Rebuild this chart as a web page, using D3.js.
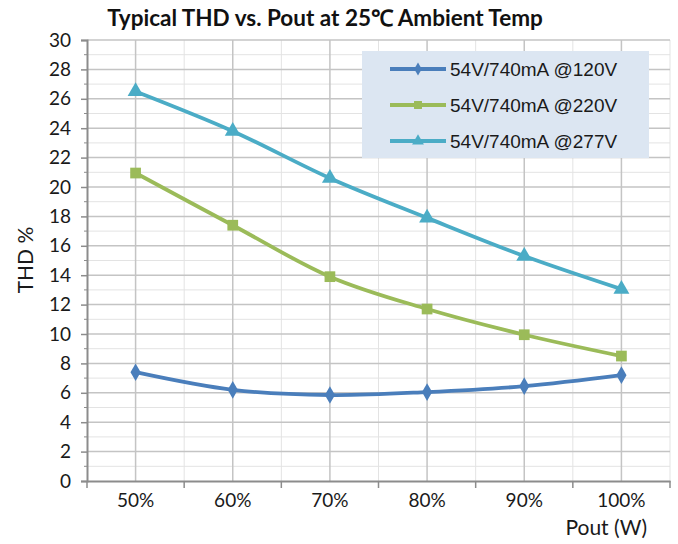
<!DOCTYPE html>
<html><head><meta charset="utf-8">
<script src="https://cdn.jsdelivr.net/npm/d3@7"></script>
<style>body{margin:0;background:#fff}svg{display:block}</style>
</head><body>
<svg id="c" width="678" height="544"></svg>
<script>
const categories = ["50%","60%","70%","80%","90%","100%"];
const seriesNames = ["54V/740mA @120V","54V/740mA @220V","54V/740mA @277V"];
const v120 = [7.4, 6.2, 5.85, 6.05, 6.45, 7.2];
const v220 = [20.95, 17.4, 13.9, 11.7, 9.95, 8.5];
const v277 = [26.5, 23.8, 20.6, 17.9, 15.3, 13.05];
const yTicks = [0,2,4,6,8,10,12,14,16,18,20,22,24,26,28,30];
const title = "Typical THD vs. Pout at 25\u2103 Ambient Temp";
const xTitle = "Pout (W)";
const yTitle = "THD %";

const colors = ["#4A7EBB","#9BBB59","#4BACC6"];
const markers = [d3.symbolDiamond, d3.symbolSquare, d3.symbolTriangle];
const markerSizes = [90, 115, 110];
const series = [v120, v220, v277];
const FONT = "Lato, 'Open Sans', sans-serif";

const svg = d3.select("#c");
const L = 87, R = 670, T = 40, B = 481;
const x = d3.scaleBand().domain(categories).range([L, R]);
const y = d3.scaleLinear().domain([0, 30]).range([B, T]);
const cx = d => x(d) + x.bandwidth()/2;

const g = svg.append("g");
g.selectAll(".hmin").data(d3.range(1, 30, 2)).join("line")
  .attr("x1", L).attr("x2", R).attr("y1", d => y(d)).attr("y2", d => y(d))
  .attr("stroke", "#E3E3E3").attr("stroke-width", 1);
g.selectAll(".vmin").data(d3.range(1, categories.length + 1)).join("line")
  .attr("x1", i => L + x.bandwidth()*i).attr("x2", i => L + x.bandwidth()*i)
  .attr("y1", T).attr("y2", B).attr("stroke", "#E3E3E3").attr("stroke-width", 1);
g.selectAll(".hmaj").data(yTicks.slice(1)).join("line")
  .attr("x1", L).attr("x2", R).attr("y1", d => y(d)).attr("y2", d => y(d))
  .attr("stroke", "#C4C4C4").attr("stroke-width", 1.5);
g.selectAll(".vmaj").data(categories).join("line")
  .attr("x1", cx).attr("x2", cx).attr("y1", T).attr("y2", B)
  .attr("stroke", "#C4C4C4").attr("stroke-width", 1.5);

const yAxis = d3.axisLeft(y).tickValues(yTicks).tickSize(6).tickPadding(10);
const ya = svg.append("g").attr("transform", `translate(${L},0)`).call(yAxis);
ya.select(".domain").attr("stroke", "#8C8C8C").attr("stroke-width", 2);
ya.selectAll(".tick line").attr("stroke", "#8C8C8C").attr("stroke-width", 1.5);
ya.selectAll(".tick text").attr("font-family", FONT).attr("font-size", 19).attr("fill", "#1a1a1a");
svg.append("g").selectAll("line").data(d3.range(1, 30, 2)).join("line")
  .attr("x1", L-3).attr("x2", L).attr("y1", d => y(d)).attr("y2", d => y(d))
  .attr("stroke", "#8C8C8C").attr("stroke-width", 1);

const xAxis = d3.axisBottom(x).tickSize(0).tickPadding(13);
const xa = svg.append("g").attr("transform", `translate(0,${B})`).call(xAxis);
xa.select(".domain").attr("stroke", "#8C8C8C").attr("stroke-width", 2);
xa.selectAll(".tick text").attr("font-family", FONT).attr("font-size", 19).attr("fill", "#1a1a1a");
svg.append("g").selectAll("line").data(d3.range(categories.length + 1)).join("line")
  .attr("x1", i => L + x.bandwidth()*i).attr("x2", i => L + x.bandwidth()*i)
  .attr("y1", B).attr("y2", B + 7).attr("stroke", "#8C8C8C").attr("stroke-width", 1.5);

const line = d3.line().x((d,i) => cx(categories[i])).y(d => y(d)).curve(d3.curveCardinal.tension(0));
series.forEach((s, k) => {
  svg.append("path").datum(s).attr("d", line).attr("fill", "none")
    .attr("stroke", colors[k]).attr("stroke-width", 3.8).attr("stroke-linejoin", "round").attr("stroke-linecap", "round");
  svg.append("g").selectAll("path").data(s).join("path")
    .attr("transform", (d,i) => `translate(${cx(categories[i])},${y(d)})`)
    .attr("d", d3.symbol(markers[k], markerSizes[k])).attr("fill", colors[k]);
});

const lg = svg.append("g");
lg.append("rect").attr("x", 362).attr("y", 51).attr("width", 287).attr("height", 107).attr("fill", "#DCE6F2");
seriesNames.forEach((n, k) => {
  const yy = 69 + k*36;
  lg.append("line").attr("x1", 390).attr("x2", 446).attr("y1", yy).attr("y2", yy)
    .attr("stroke", colors[k]).attr("stroke-width", 3.8);
  lg.append("path").attr("transform", `translate(418,${yy})`)
    .attr("d", d3.symbol(markers[k], markerSizes[k]*0.55)).attr("fill", colors[k]);
  lg.append("text").attr("x", 450).attr("y", yy + 6.8).text(n)
    .attr("font-family", "'Liberation Sans', Arial, sans-serif").attr("font-size", 19).attr("fill", "#1a1a1a");
});

svg.append("text").attr("x", 325).attr("y", 26).attr("text-anchor", "middle").text(title)
  .attr("font-family", FONT).attr("font-weight", "bold").attr("font-size", 22.5).attr("fill", "#111");
svg.append("text").attr("x", 647).attr("y", 535).attr("text-anchor", "end").text(xTitle)
  .attr("font-family", FONT).attr("font-size", 21).attr("fill", "#1a1a1a");
svg.append("text").attr("transform", "translate(33,260) rotate(-90)").attr("text-anchor", "middle").text(yTitle)
  .attr("font-family", FONT).attr("font-size", 21).attr("fill", "#1a1a1a");
</script>
</body></html>
